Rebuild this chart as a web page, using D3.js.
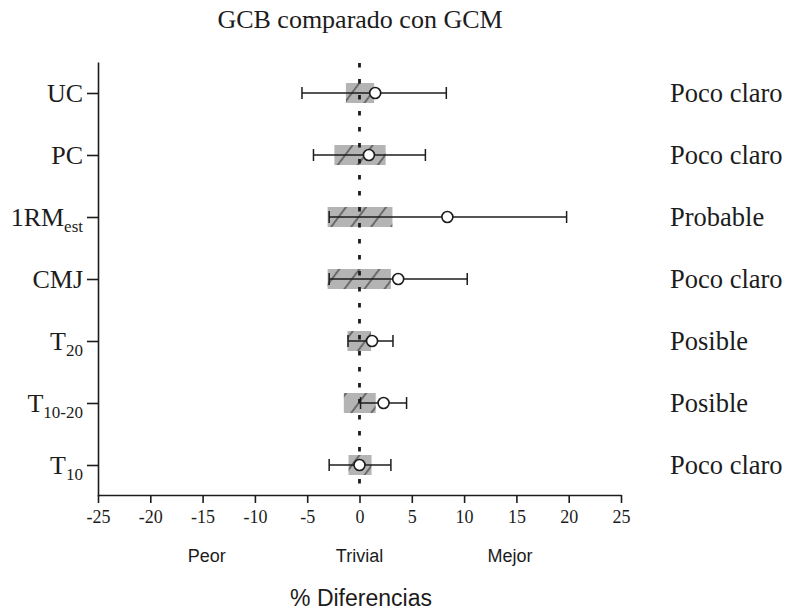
<!DOCTYPE html>
<html>
<head>
<meta charset="utf-8">
<script src="https://cdn.jsdelivr.net/npm/d3@7/dist/d3.min.js"></script>
<style>
  html, body { margin: 0; padding: 0; background: #ffffff; }
  svg { display: block; }
</style>
</head>
<body>
<svg id="chart" width="788" height="614"></svg>
<script>
// Variables compared (label base + subscript)
const categories = ["UC", "PC", "1RM_est", "CMJ", "T20", "T10-20", "T10"];
const labelBase = ["UC", "PC", "1RM", "CMJ", "T", "T", "T"];
const labelSub = ["", "", "est", "", "20", "10-20", "10"];

// Mean % difference and 90% confidence limits
const meanDiff = [1.5, 0.9, 8.4, 3.7, 1.2, 2.3, 0.0];
const ciLower = [-5.5, -4.4, -2.9, -2.9, -1.1, 0.1, -2.9];
const ciUpper = [8.3, 6.3, 19.8, 10.3, 3.2, 4.5, 3.0];

// Smallest worthwhile change (trivial zone) per variable
const swcLower = [-1.3, -2.4, -3.05, -3.05, -1.15, -1.5, -1.05];
const swcUpper = [1.4, 2.5, 3.15, 3.0, 1.1, 1.55, 1.15];

// Qualitative inference
const inference = ["Poco claro", "Poco claro", "Probable", "Poco claro", "Posible", "Posible", "Poco claro"];

const xTicks = [-25, -20, -15, -10, -5, 0, 5, 10, 15, 20, 25];
const zoneLabels = ["Peor", "Trivial", "Mejor"];
const zonePos = [-14.6, 0, 14.4];

const title = "GCB comparado con GCM";
const xTitle = "% Diferencias";

const ink = "#1c1c1c";
const serif = "'Liberation Serif', 'Times New Roman', serif";
const sans = "'Liberation Sans', Arial, sans-serif";

const svg = d3.select("#chart");

const x = d3.scaleLinear().domain([-25, 25]).range([98, 621]);
const y = d3.scalePoint().domain(categories).range([62, 496]).padding(0.5);

// Hatch pattern for the trivial zone boxes
const defs = svg.append("defs");
const pat = defs.append("pattern")
  .attr("id", "hatch")
  .attr("patternUnits", "userSpaceOnUse")
  .attr("width", 16).attr("height", 10)
  .attr("patternTransform", "rotate(37)");
pat.append("rect").attr("width", 16).attr("height", 10).attr("fill", "#b4b4b4");
pat.append("line")
  .attr("x1", 1).attr("y1", 0).attr("x2", 1).attr("y2", 10)
  .attr("stroke", "#3a3a3a").attr("stroke-width", 1.2);

const rows = categories.map((c, i) => ({
  c, i, mean: meanDiff[i], lo: ciLower[i], hi: ciUpper[i],
  sLo: swcLower[i], sHi: swcUpper[i], inf: inference[i]
}));

// Trivial zone boxes
const boxH = 20;
svg.append("g").selectAll("rect")
  .data(rows).join("rect")
  .attr("x", d => x(d.sLo))
  .attr("y", d => y(d.c) - boxH / 2)
  .attr("width", d => x(d.sHi) - x(d.sLo))
  .attr("height", boxH)
  .attr("fill", "url(#hatch)");

// Zero reference line (dotted)
svg.append("line")
  .attr("x1", x(0)).attr("x2", x(0))
  .attr("y1", 63).attr("y2", y.range()[1] - 2)
  .attr("stroke", ink).attr("stroke-width", 2.8)
  .attr("stroke-dasharray", "4.5 11.5");

// Confidence interval whiskers
const capH = 12;
const ci = svg.append("g").attr("stroke", ink).attr("stroke-width", 1.5);
ci.selectAll("line.ci").data(rows).join("line")
  .attr("class", "ci")
  .attr("x1", d => x(d.lo)).attr("x2", d => x(d.hi))
  .attr("y1", d => y(d.c)).attr("y2", d => y(d.c));
ci.selectAll("line.capL").data(rows).join("line")
  .attr("class", "capL")
  .attr("x1", d => x(d.lo)).attr("x2", d => x(d.lo))
  .attr("y1", d => y(d.c) - capH / 2).attr("y2", d => y(d.c) + capH / 2);
ci.selectAll("line.capR").data(rows).join("line")
  .attr("class", "capR")
  .attr("x1", d => x(d.hi)).attr("x2", d => x(d.hi))
  .attr("y1", d => y(d.c) - capH / 2).attr("y2", d => y(d.c) + capH / 2);

// Mean points
svg.append("g").selectAll("circle")
  .data(rows).join("circle")
  .attr("cx", d => x(d.mean))
  .attr("cy", d => y(d.c))
  .attr("r", 5.5)
  .attr("fill", "#ffffff")
  .attr("stroke", ink).attr("stroke-width", 1.6);

// X axis
const xAxis = svg.append("g")
  .attr("transform", `translate(0,${y.range()[1] - 1})`)
  .call(d3.axisBottom(x).tickValues(xTicks).tickSize(8).tickSizeOuter(0)
    .tickFormat(d => String(d)));
xAxis.selectAll("path, line").attr("stroke", ink).attr("stroke-width", 1.6);
xAxis.selectAll("text")
  .attr("font-family", serif).attr("font-size", 18).attr("fill", ink)
  .attr("dy", "0.95em");

// Y axis
const yAxis = svg.append("g")
  .attr("transform", `translate(${x.range()[0]},0)`)
  .call(d3.axisLeft(y).tickSize(11).tickSizeOuter(0).tickFormat(""));
yAxis.selectAll("path, line").attr("stroke", ink).attr("stroke-width", 1.6);

// Category labels with subscripts
const lab = svg.append("g")
  .attr("font-family", serif).attr("font-size", 26).attr("fill", ink)
  .attr("text-anchor", "end");
rows.forEach(d => {
  const t = lab.append("text")
    .attr("x", x.range()[0] - 15)
    .attr("y", y(d.c) + 9);
  t.append("tspan").text(labelBase[d.i]);
  if (labelSub[d.i]) {
    t.append("tspan").attr("font-size", 17).attr("dy", 6).text(labelSub[d.i]);
  }
});

// Inference labels on the right
svg.append("g").selectAll("text")
  .data(rows).join("text")
  .attr("x", 670)
  .attr("y", d => y(d.c) + 9)
  .attr("font-family", serif).attr("font-size", 26.5).attr("fill", ink)
  .text(d => d.inf);

// Title
svg.append("text")
  .attr("x", 360).attr("y", 28)
  .attr("text-anchor", "middle")
  .attr("font-family", serif).attr("font-size", 26).attr("fill", ink)
  .text(title);

// Zone descriptors under the axis
svg.append("g").selectAll("text")
  .data(zoneLabels).join("text")
  .attr("x", (d, i) => x(zonePos[i]))
  .attr("y", 562)
  .attr("text-anchor", "middle")
  .attr("font-family", sans).attr("font-size", 18).attr("fill", ink)
  .text(d => d);

// Axis title
svg.append("text")
  .attr("x", 361).attr("y", 606)
  .attr("text-anchor", "middle")
  .attr("font-family", sans).attr("font-size", 23).attr("fill", ink)
  .text(xTitle);
</script>
</body>
</html>
